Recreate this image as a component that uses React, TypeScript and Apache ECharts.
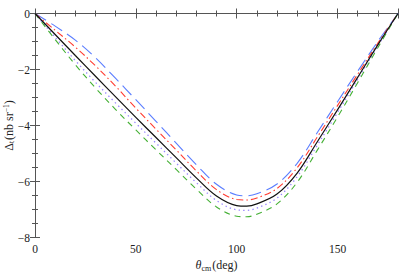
import React, { useEffect, useRef } from "react";
import * as echarts from "echarts";

const theta = [0, 10, 20, 30, 40, 50, 60, 70, 80, 90, 100, 105, 110, 120, 130, 140, 150, 160, 170, 180];
const solidBlack = [0, -0.75, -1.5, -2.24, -2.98, -3.71, -4.43, -5.15, -5.87, -6.52, -6.86, -6.88, -6.8, -6.45, -5.7, -4.58, -3.44, -2.28, -1.12, 0];
const longDashBlue = [0, -0.45, -0.95, -1.58, -2.32, -3.08, -3.85, -4.63, -5.4, -6.1, -6.48, -6.51, -6.44, -6.09, -5.35, -4.25, -3.15, -2.06, -1.0, 0];
const dashDotRed = [0, -0.6, -1.2, -1.87, -2.6, -3.38, -4.13, -4.87, -5.62, -6.29, -6.64, -6.66, -6.59, -6.25, -5.51, -4.41, -3.29, -2.17, -1.06, 0];
const dottedPurple = [0, -0.85, -1.68, -2.46, -3.2, -3.92, -4.63, -5.34, -6.04, -6.68, -7.01, -7.03, -6.95, -6.59, -5.83, -4.7, -3.54, -2.35, -1.16, 0];
const dashedGreen = [0, -0.93, -1.83, -2.66, -3.43, -4.16, -4.87, -5.57, -6.27, -6.91, -7.24, -7.26, -7.17, -6.8, -6.03, -4.88, -3.7, -2.47, -1.22, 0];

const xTicks = { min: 0, max: 180, interval: 50, minorSplit: 5 };
const yTicks = { min: -8, max: 0, interval: 2, minorSplit: 4 };

const FONT = "'Liberation Serif', 'DejaVu Serif', serif";
const AXIS_COLOR = "#555";
const TEXT_COLOR = "#222";

function pairs(ys: number[]) {
  return theta.map((t, i) => [t, ys[i]]);
}

function fmtNum(v: number) {
  return v < 0 ? "\u2212" + Math.abs(v) : String(v);
}

export default function App() {
  const ref = useRef<HTMLDivElement>(null);
  useEffect(() => {
    if (!ref.current) return;
    const chart = echarts.init(ref.current, null, { renderer: "svg" });
    const baseAxisCommon = {
      type: "value" as const,
      axisLine: { show: true, lineStyle: { color: AXIS_COLOR, width: 1 } },
      axisTick: { show: true, inside: true, length: 5, lineStyle: { color: AXIS_COLOR } },
      minorTick: { show: true, length: 3, lineStyle: { color: AXIS_COLOR } },
      splitLine: { show: false },
    };
    const xCommon = {
      ...baseAxisCommon,
      min: xTicks.min,
      max: xTicks.max,
      interval: xTicks.interval,
      minorTick: { ...baseAxisCommon.minorTick, splitNumber: xTicks.minorSplit },
    };
    const yCommon = {
      ...baseAxisCommon,
      min: yTicks.min,
      max: yTicks.max,
      interval: yTicks.interval,
      minorTick: { ...baseAxisCommon.minorTick, splitNumber: yTicks.minorSplit },
    };
    const lineSeries = (name: string, ys: number[], color: string, type: any, width = 1.1) => ({
      name,
      type: "line" as const,
      data: pairs(ys),
      smooth: 0.35,
      symbol: "none",
      lineStyle: { color, width, type },
      z: 3,
    });
    chart.setOption({
      animation: false,
      grid: { left: 35, right: 1, top: 13.5, bottom: 38.5, containLabel: false, outerBoundsMode: "none" },
      xAxis: [
        {
          ...xCommon,
          position: "bottom",
          name: "{th|θ}{sub|cm}{n|(deg)}",
          nameLocation: "middle",
          nameGap: 20,
          nameTextStyle: {
            rich: {
              th: { fontFamily: FONT, fontStyle: "italic", fontSize: 12, color: TEXT_COLOR },
              sub: { fontFamily: FONT, fontSize: 8, color: TEXT_COLOR, verticalAlign: "bottom", padding: [6, 1, 0, 0] },
              n: { fontFamily: FONT, fontSize: 12, color: TEXT_COLOR },
            },
          },
          axisLabel: {
            show: true,
            margin: 5,
            fontFamily: FONT,
            fontSize: 11.5,
            color: TEXT_COLOR,
            showMaxLabel: false,
            formatter: (v: number) => fmtNum(v),
          },
        },
        {
          ...xCommon,
          position: "top",
          axisLabel: { show: false },
        },
      ],
      yAxis: [
        {
          ...yCommon,
          position: "left",
          name: "{d|Δ}{sub|t}{n|(nb sr}{sup|−1}{n|)}",
          nameLocation: "middle",
          nameGap: 20,
          nameMoveOverlap: false,
          nameRotate: 90,
          nameTextStyle: {
            lineHeight: 13,
            rich: {
              d: { fontFamily: FONT, fontSize: 12, color: TEXT_COLOR, lineHeight: 13 },
              sub: { fontFamily: FONT, fontSize: 7.5, color: TEXT_COLOR, lineHeight: 13, padding: [5, 1, 0, 0] },
              sup: { fontFamily: FONT, fontSize: 7.5, color: TEXT_COLOR, lineHeight: 13, padding: [0, 0, 5, 0] },
              n: { fontFamily: FONT, fontSize: 12, color: TEXT_COLOR, lineHeight: 13 },
            },
          },
          axisLabel: {
            show: true,
            margin: 5,
            fontFamily: FONT,
            fontSize: 11.5,
            color: TEXT_COLOR,
            showMinLabel: true,
            showMaxLabel: true,
            formatter: (v: number) => fmtNum(v),
          },
        },
        {
          ...yCommon,
          position: "right",
          axisLabel: { show: false },
        },
      ],
      series: [
        lineSeries("blue", longDashBlue, "#5a7dff", [13, 6]),
        lineSeries("red", dashDotRed, "#ff3b30", [7, 3, 1.5, 3]),
        lineSeries("purple", dottedPurple, "#9a86ff", [1.4, 3.2], 1.3),
        lineSeries("green", dashedGreen, "#45b035", [6, 5]),
        lineSeries("black", solidBlack, "#111111", "solid", 1.2),
      ],
    });
    return () => chart.dispose();
  }, []);
  return (
    <div
      ref={ref}
      style={{ position: "fixed", left: 0, top: 0, width: 399, height: 276, background: "#fff" }}
    />
  );
}
